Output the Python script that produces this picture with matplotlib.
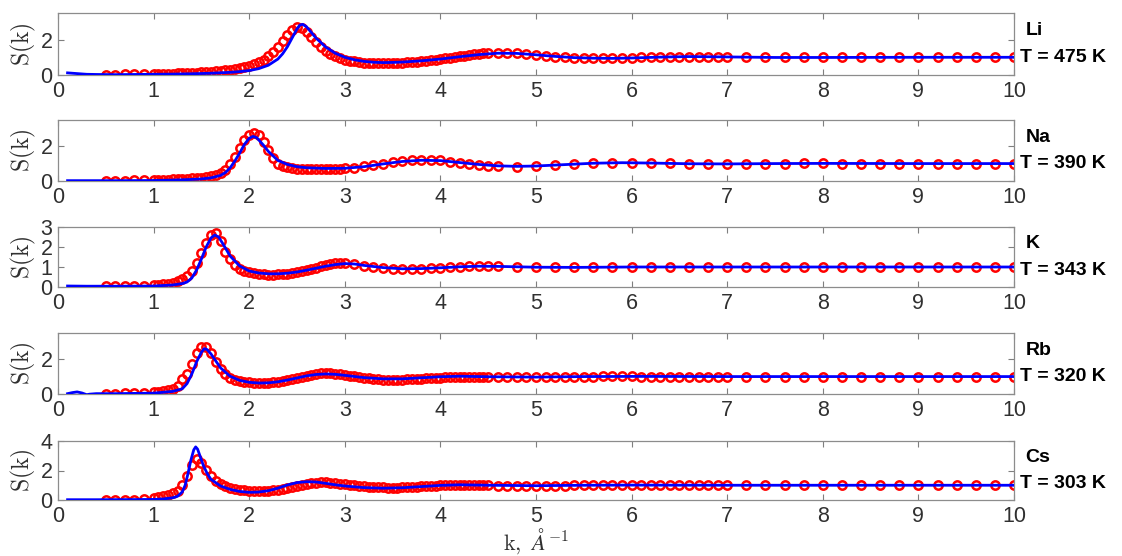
import matplotlib
matplotlib.use("Agg")
import matplotlib.pyplot as plt

plt.rcParams['mathtext.fontset'] = 'cm'
plt.rcParams['font.family'] = ['Liberation Sans', 'DejaVu Sans']

# ---- experimental k grids (1/A) ----
k_lo = [0.5, 0.6, 0.7, 0.8, 0.9]
k_dense = [1.00, 1.05, 1.10, 1.15, 1.20, 1.25, 1.30, 1.35, 1.40, 1.45,
           1.50, 1.55, 1.60, 1.65, 1.70, 1.75, 1.80, 1.85, 1.90, 1.95,
           2.00, 2.05, 2.10, 2.15, 2.20, 2.25, 2.30, 2.35, 2.40, 2.45,
           2.50, 2.55, 2.60, 2.65, 2.70, 2.75, 2.80, 2.85, 2.90, 2.95,
           3.00, 3.05, 3.10, 3.15, 3.20, 3.25, 3.30, 3.35, 3.40, 3.45,
           3.50, 3.55, 3.60, 3.65, 3.70, 3.75, 3.80, 3.85, 3.90, 3.95,
           4.00, 4.05, 4.10, 4.15, 4.20, 4.25, 4.30, 4.35, 4.40, 4.45, 4.50]
k_mid = [4.6, 4.7, 4.8, 4.9, 5.0, 5.1, 5.2, 5.3, 5.4, 5.5, 5.6, 5.7, 5.8,
         5.9, 6.0, 6.1, 6.2, 6.3, 6.4, 6.5, 6.6, 6.7, 6.8, 6.9, 7.0]
k_hi = [7.2, 7.4, 7.6, 7.8, 8.0, 8.2, 8.4, 8.6, 8.8, 9.0, 9.2, 9.4, 9.6, 9.8, 10.0]
k_tail_a = [3.1, 3.2, 3.3, 3.4, 3.5, 3.6, 3.7, 3.8, 3.9, 4.0, 4.1, 4.2, 4.3, 4.4, 4.5]
k_tail_b = [4.6, 4.8, 5.0, 5.2, 5.4, 5.6, 5.8, 6.0, 6.2, 6.4, 6.6, 6.8, 7.0, 7.2,
            7.4, 7.6, 7.8, 8.0, 8.2, 8.4, 8.6, 8.8, 9.0, 9.2, 9.4, 9.6, 9.8, 10.0]

k_grid_a = k_lo + k_dense + k_mid + k_hi            # Li, Rb, Cs
k_grid_b = k_lo + k_dense[:41] + k_tail_a + k_tail_b  # Na, K

ones15 = [1.00] * 15

# ---- experimental S(k) ----
s_li = ([0.02, 0.02, 0.03, 0.03, 0.04] +
        [0.05, 0.06, 0.06, 0.07, 0.08, 0.09, 0.10, 0.11, 0.12, 0.14,
         0.15, 0.17, 0.19, 0.21, 0.24, 0.27, 0.31, 0.35, 0.40, 0.46,
         0.53, 0.62, 0.73, 0.87, 1.05, 1.28, 1.56, 1.90, 2.25, 2.55,
         2.70, 2.66, 2.45, 2.15, 1.85, 1.58, 1.36, 1.18, 1.05, 0.95,
         0.87, 0.81, 0.77, 0.73, 0.70, 0.68, 0.67, 0.66, 0.66, 0.66,
         0.67, 0.68, 0.69, 0.71, 0.73, 0.75, 0.78, 0.81, 0.84, 0.87,
         0.90, 0.94, 0.98, 1.02, 1.06, 1.10, 1.14, 1.17, 1.20, 1.23, 1.26] +
        [1.25, 1.25, 1.22, 1.18, 1.13, 1.08, 1.04, 1.00, 0.97, 0.95, 0.94, 0.94,
         0.94, 0.95, 0.97, 0.99, 1.01, 1.02, 1.03, 1.04, 1.04, 1.04, 1.03, 1.02, 1.01] +
        [1.00, 0.99, 0.99, 0.99, 1.00, 1.00, 1.00, 1.00, 1.00, 1.00, 1.00, 1.00, 1.00, 1.00, 1.00])

s_na = ([0.02, 0.02, 0.02, 0.03, 0.03] +
        [0.05, 0.06, 0.07, 0.08, 0.09, 0.10, 0.11, 0.13, 0.15, 0.17,
         0.20, 0.24, 0.29, 0.36, 0.47, 0.65, 0.95, 1.40, 1.90, 2.35,
         2.65, 2.74, 2.62, 2.25, 1.80, 1.30, 1.00, 0.86, 0.78, 0.73,
         0.70, 0.68, 0.67, 0.67, 0.67, 0.68, 0.68, 0.69, 0.70, 0.71, 0.72] +
        [0.77, 0.84, 0.92, 1.00, 1.08, 1.14, 1.18, 1.21, 1.21, 1.18, 1.11, 1.04, 0.97, 0.91, 0.87] +
        [0.84, 0.83, 0.86, 0.91, 0.97, 1.02, 1.05, 1.05, 1.03, 1.01, 0.99, 0.98, 0.98, 0.99,
         1.00, 1.00, 1.01, 1.01, 1.00, 1.00, 1.00, 1.00, 1.00, 1.00, 1.00, 1.00, 1.00, 1.00])

s_k = ([0.03, 0.03, 0.04, 0.04, 0.05] +
       [0.08, 0.10, 0.13, 0.17, 0.22, 0.28, 0.38, 0.55, 0.80, 1.20,
        1.70, 2.20, 2.58, 2.68, 2.30, 1.75, 1.38, 1.12, 0.92, 0.80,
        0.74, 0.69, 0.65, 0.63, 0.62, 0.62, 0.63, 0.64, 0.66, 0.69,
        0.73, 0.78, 0.84, 0.90, 0.97, 1.04, 1.10, 1.15, 1.19, 1.21, 1.22] +
       [1.15, 1.06, 0.99, 0.94, 0.91, 0.90, 0.90, 0.91, 0.93, 0.96, 0.99, 1.01, 1.03, 1.04, 1.04] +
       [1.03, 1.02, 1.00, 0.99, 0.98, 0.98, 0.99, 1.00, 1.00, 1.01, 1.00, 1.00, 1.00, 1.00,
        1.00, 1.00, 1.00, 1.00, 1.00, 1.00, 1.00, 1.00, 1.00, 1.00, 1.00, 1.00, 1.00, 1.00])

s_rb = ([0.02, 0.02, 0.03, 0.03, 0.04] +
        [0.10, 0.14, 0.18, 0.23, 0.30, 0.48, 0.85, 1.15, 1.75, 2.35,
         2.68, 2.70, 2.35, 1.85, 1.42, 1.12, 0.94, 0.82, 0.74, 0.69,
         0.66, 0.64, 0.63, 0.63, 0.64, 0.66, 0.69, 0.73, 0.78, 0.84,
         0.91, 0.98, 1.04, 1.10, 1.15, 1.18, 1.19, 1.18, 1.16, 1.13,
         1.09, 1.05, 1.01, 0.97, 0.93, 0.90, 0.86, 0.84, 0.83, 0.82,
         0.82, 0.82, 0.83, 0.84, 0.85, 0.87, 0.88, 0.90, 0.91, 0.93,
         0.94, 0.95, 0.96, 0.96, 0.97, 0.97, 0.97, 0.97, 0.97, 0.97, 0.97] +
        [0.97, 0.97, 0.96, 0.96, 0.96, 0.97, 0.97, 0.98, 0.99, 1.00, 1.00, 1.01,
         1.01, 1.01, 1.01, 1.00, 1.00, 1.00, 1.00, 0.99, 0.99, 1.00, 1.00, 1.00, 1.00] +
        ones15)

s_cs = ([0.02, 0.02, 0.03, 0.03, 0.04] +
        [0.14, 0.20, 0.26, 0.34, 0.46, 0.64, 1.00, 1.65, 2.40, 2.76,
         2.50, 2.03, 1.60, 1.30, 1.10, 0.95, 0.84, 0.76, 0.70, 0.66,
         0.63, 0.62, 0.61, 0.62, 0.63, 0.65, 0.69, 0.74, 0.80, 0.87,
         0.95, 1.03, 1.10, 1.15, 1.18, 1.20, 1.20, 1.18, 1.15, 1.11,
         1.07, 1.03, 0.99, 0.96, 0.93, 0.90, 0.88, 0.86, 0.85, 0.84,
         0.84, 0.84, 0.85, 0.86, 0.88, 0.90, 0.92, 0.94, 0.96, 0.98,
         0.99, 1.00, 1.01, 1.02, 1.02, 1.02, 1.01, 1.01, 1.00, 0.99, 0.99] +
        [0.98, 0.98, 0.97, 0.97, 0.97, 0.97, 0.98, 0.98, 0.99, 1.00, 1.00, 1.01,
         1.01, 1.01, 1.00, 1.00, 1.00, 1.00, 1.00, 1.00, 1.00, 1.00, 1.00, 1.00, 1.00] +
        ones15)

# ---- theory curves (knots) ----
kt_li = [0.1, 0.2, 0.3, 0.4, 0.6, 0.8, 1.0, 1.2, 1.4, 1.6, 1.8, 1.9, 2.0, 2.1, 2.2, 2.3,
         2.35, 2.4, 2.45, 2.5, 2.53, 2.56, 2.6, 2.65, 2.7, 2.8, 2.9, 3.0, 3.1, 3.2, 3.3,
         3.4, 3.5, 3.6, 3.8, 4.0, 4.2, 4.4, 4.6, 4.8, 5.0, 5.2, 5.4, 5.6, 5.8, 6.0, 6.3,
         6.6, 7.0, 7.5, 8.0, 9.0, 10.0]
st_li = [0.12, 0.08, 0.04, 0.03, 0.02, 0.03, 0.04, 0.05, 0.07, 0.10, 0.15, 0.19, 0.25,
         0.36, 0.55, 0.90, 1.20, 1.60, 2.10, 2.60, 2.82, 2.86, 2.72, 2.40, 2.08, 1.58,
         1.23, 1.00, 0.86, 0.77, 0.72, 0.70, 0.71, 0.73, 0.80, 0.90, 1.03, 1.15, 1.23,
         1.22, 1.14, 1.05, 0.98, 0.95, 0.94, 0.96, 1.01, 1.04, 1.02, 0.99, 0.99, 1.00, 1.00]

kt_na = [0.1, 0.3, 0.6, 1.0, 1.2, 1.4, 1.5, 1.6, 1.7, 1.75, 1.8, 1.85, 1.9, 1.95, 2.0,
         2.04, 2.08, 2.15, 2.2, 2.3, 2.4, 2.5, 2.6, 2.8, 3.0, 3.2, 3.4, 3.6, 3.8, 4.0,
         4.2, 4.4, 4.6, 4.8, 5.0, 5.3, 5.6, 5.9, 6.2, 6.6, 7.0, 7.5, 8.0, 9.0, 10.0]
st_na = [0.02, 0.02, 0.02, 0.03, 0.05, 0.09, 0.12, 0.18, 0.32, 0.48, 0.75, 1.15, 1.60,
         2.10, 2.45, 2.56, 2.48, 2.05, 1.70, 1.18, 0.95, 0.82, 0.76, 0.72, 0.73, 0.82,
         0.98, 1.12, 1.19, 1.17, 1.06, 0.95, 0.87, 0.84, 0.86, 0.94, 1.02, 1.05, 1.03,
         0.99, 0.98, 1.00, 1.01, 1.00, 1.00]

kt_k = [0.1, 0.3, 0.6, 1.0, 1.2, 1.3, 1.35, 1.4, 1.45, 1.5, 1.55, 1.6, 1.64, 1.68, 1.72,
        1.8, 1.9, 2.0, 2.1, 2.2, 2.3, 2.4, 2.5, 2.6, 2.7, 2.8, 2.9, 3.0, 3.1, 3.2, 3.4,
        3.6, 3.8, 4.0, 4.2, 4.4, 4.6, 5.0, 5.4, 6.0, 7.0, 10.0]
st_k = [0.05, 0.04, 0.04, 0.05, 0.10, 0.17, 0.25, 0.45, 0.85, 1.40, 2.00, 2.45, 2.60,
        2.50, 2.20, 1.55, 1.05, 0.80, 0.70, 0.66, 0.66, 0.69, 0.75, 0.84, 0.94, 1.04,
        1.12, 1.17, 1.15, 1.08, 0.97, 0.91, 0.92, 0.96, 1.01, 1.04, 1.03, 0.99, 0.98,
        1.00, 1.00, 1.00]

kt_rb = [0.1, 0.15, 0.2, 0.25, 0.3, 0.33, 0.4, 0.6, 1.0, 1.2, 1.3, 1.35, 1.4, 1.45, 1.5,
         1.53, 1.56, 1.6, 1.65, 1.7, 1.8, 1.9, 2.0, 2.1, 2.2, 2.3, 2.4, 2.5, 2.6, 2.7,
         2.8, 2.9, 3.0, 3.2, 3.4, 3.6, 3.8, 4.0, 4.2, 4.5, 5.0, 5.5, 6.0, 7.0, 10.0]
st_rb = [0.02, 0.08, 0.12, 0.06, -0.04, -0.01, 0.02, 0.02, 0.05, 0.15, 0.30, 0.60, 1.15,
         1.85, 2.40, 2.60, 2.55, 2.30, 1.90, 1.50, 1.02, 0.78, 0.67, 0.63, 0.64, 0.70,
         0.80, 0.92, 1.04, 1.12, 1.15, 1.13, 1.07, 0.94, 0.87, 0.87, 0.93, 0.99, 1.02,
         0.99, 0.97, 1.00, 1.01, 1.00, 1.00]

kt_cs = [0.1, 0.4, 0.8, 1.0, 1.1, 1.2, 1.25, 1.3, 1.33, 1.36, 1.39, 1.42, 1.44, 1.46, 1.49,
         1.52, 1.56, 1.6, 1.7, 1.8, 1.9, 2.0, 2.1, 2.2, 2.3, 2.4, 2.5, 2.6, 2.7, 2.8, 2.9,
         3.0, 3.2, 3.4, 3.6, 3.8, 4.0, 4.2, 4.5, 5.0, 5.5, 6.0, 7.0, 10.0]
st_cs = [0.02, 0.02, 0.03, 0.04, 0.07, 0.15, 0.25, 0.55, 1.00, 1.80, 2.70, 3.40, 3.60,
         3.45, 2.90, 2.35, 1.80, 1.40, 0.95, 0.72, 0.58, 0.52, 0.54, 0.63, 0.80, 1.02,
         1.18, 1.24, 1.22, 1.13, 1.03, 0.95, 0.84, 0.80, 0.83, 0.91, 0.99, 1.03, 1.00,
         0.97, 1.00, 1.01, 1.00, 1.00]

names = ['Li', 'Na', 'K', 'Rb', 'Cs']
temps = ['T = 475 K', 'T = 390 K', 'T = 343 K', 'T = 320 K', 'T = 303 K']
exp_k = [k_grid_a, k_grid_b, k_grid_b, k_grid_a, k_grid_a]
exp_s = [s_li, s_na, s_k, s_rb, s_cs]
th_k = [kt_li, kt_na, kt_k, kt_rb, kt_cs]
th_s = [st_li, st_na, st_k, st_rb, st_cs]
ylims = [3.5, 3.5, 3.0, 3.5, 4.0]
yticks = [[0, 2], [0, 2], [0, 1, 2, 3], [0, 2], [0, 2, 4]]

W, H = 1122, 556
fig = plt.figure(figsize=(W / 100, H / 100), dpi=100)

# panel top/bottom in pixels
rows = [(13, 75), (120, 181), (227, 287), (333, 394), (441, 500)]
left, right = 58, 1014

for i in range(5):
    top, bot = rows[i]
    ax = fig.add_axes([left / W, 1 - bot / H, (right - left) / W, (bot - top) / H])
    ax.plot(exp_k[i], exp_s[i], 'o', color='red', mfc='none', ms=6, mew=1.8, zorder=2)
    ax.plot(th_k[i], th_s[i], '-', color='blue', lw=2.0, zorder=3)
    ax.set_xlim(0, 10)
    ax.set_ylim(0, ylims[i])
    ax.set_xticks(range(11))
    ax.set_yticks(yticks[i])
    ax.tick_params(direction='in', top=True, right=True, length=4, width=0.8,
                   color='#7f7f7f', labelsize=15.5, labelcolor='#303030', pad=4)
    for sp in ax.spines.values():
        sp.set_color('#8c8c8c')
        sp.set_linewidth(0.9)
    ax.set_ylabel(r'$\mathrm{S(k)}$', fontsize=17, color='#303030', labelpad=2)
    ax.text(1.012, 0.72, names[i], transform=ax.transAxes, fontsize=14,
            fontweight='bold', va='center', ha='left')
    ax.text(1.006, 0.28, temps[i], transform=ax.transAxes, fontsize=14,
            fontweight='bold', va='center', ha='left')

fig.text((left + right) / 2 / W, 1 - 541 / H, r'$\mathrm{k,}\ \AA^{-1}$',
         fontsize=16, color='#303030', ha='center', va='center')

fig.savefig('out.png', dpi=100)
